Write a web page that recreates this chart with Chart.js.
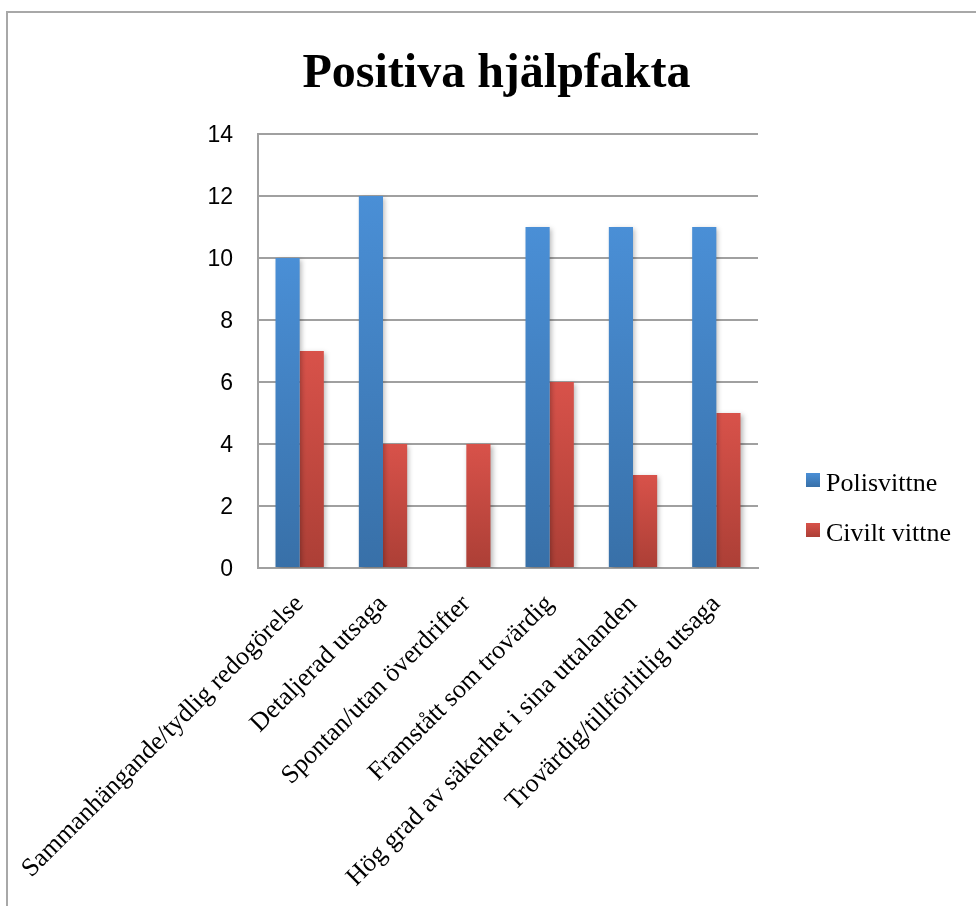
<!DOCTYPE html>
<html>
<head>
<meta charset="utf-8">
<script src="https://cdn.jsdelivr.net/npm/chart.js@4.4.1/dist/chart.umd.min.js"></script>
<style>
  html, body { margin: 0; padding: 0; background: #fff; }
  #frame {
    position: absolute; left: 6px; top: 11px; width: 970px; height: 895px;
    border-left: 2px solid #a8a8a8; border-top: 2px solid #a8a8a8;
  }
  #wrap { position: absolute; left: 0; top: 0; width: 968px; height: 893px; }
  #title {
    position: absolute; left: 0; top: 29px; width: 977px; text-align: center;
    font-family: "Liberation Serif", "Times New Roman", serif; font-size: 48px;
    font-weight: bold; line-height: 57.6px; color: #000; white-space: nowrap;
  }
  #legend {
    position: absolute; left: 798px; top: 445px;
    font-family: "Liberation Serif", "Times New Roman", serif; font-size: 26px; color: #000;
  }
  .item { height: 50px; line-height: 50px; white-space: nowrap; }
  .box { display: inline-block; width: 14px; height: 14px; margin-right: 6px; margin-bottom: 4px; vertical-align: baseline; }
</style>
</head>
<body>
<div id="frame">
  <div id="wrap"><canvas id="chart"></canvas></div>
  <div id="title">Positiva hjälpfakta</div>
  <div id="legend"></div>
</div>
<script>
const categories = [
  'Sammanhängande/tydlig redogörelse',
  'Detaljerad utsaga',
  'Spontan/utan överdrifter',
  'Framstått som trovärdig',
  'Hög grad av säkerhet i sina uttalanden',
  'Trovärdig/tillförlitlig utsaga'
];
const seriesNames = ['Polisvittne', 'Civilt vittne'];
const polisvittne = [10, 12, 0, 11, 11, 11];
const civiltVittne = [7, 4, 4, 6, 3, 5];
const yTicks = [0, 2, 4, 6, 8, 10, 12, 14];

const colorsTop = ['#4a8fd6', '#d8524a'];
const colorsBottom = ['#3870a8', '#ac3f36'];

// vertical gradient per bar, from its top down to the zero line
function barGradient(top, bottom) {
  return function(context) {
    const chart = context.chart;
    const area = chart.chartArea;
    if (!area || context.type !== 'data') return top;
    const y = chart.scales.y;
    const yTop = y.getPixelForValue(context.parsed.y);
    const yBase = y.getPixelForValue(0);
    if (yBase - yTop < 1) return top;
    const g = chart.ctx.createLinearGradient(0, yTop, 0, yBase);
    g.addColorStop(0, top);
    g.addColorStop(1, bottom);
    return g;
  };
}

const shadowPlugin = {
  id: 'barShadow',
  beforeDatasetsDraw(chart) {
    const ctx = chart.ctx;
    ctx.save();
    ctx.shadowColor = 'rgba(0,0,0,0.28)';
    ctx.shadowBlur = 5;
    ctx.shadowOffsetX = 2;
    ctx.shadowOffsetY = 2;
  },
  afterDatasetsDraw(chart) {
    chart.ctx.restore();
  }
};

const serif = '"Liberation Serif", "Times New Roman", serif';

const chart = new Chart(document.getElementById('chart'), {
  type: 'bar',
  data: {
    labels: categories,
    datasets: [
      {
        label: seriesNames[0],
        data: polisvittne,
        backgroundColor: barGradient(colorsTop[0], colorsBottom[0])
      },
      {
        label: seriesNames[1],
        data: civiltVittne,
        backgroundColor: barGradient(colorsTop[1], colorsBottom[1])
      }
    ]
  },
  plugins: [shadowPlugin],
  options: {
    responsive: true,
    maintainAspectRatio: false,
    animation: false,
    datasets: { bar: { categoryPercentage: 0.58, barPercentage: 1.0 } },
    layout: { padding: { left: 0, right: 218, top: 121, bottom: 0 } },
    plugins: {
      title: { display: false },
      legend: { display: false },
      tooltip: { enabled: false }
    },
    scales: {
      x: {
        grid: { display: false, drawTicks: false },
        border: { color: '#a0a0a0', width: 2 },
        afterFit(scale) {
          scale.height = 338;
          scale.paddingLeft = 0;
          scale.paddingRight = 0;
        },
        ticks: {
          color: '#000',
          maxRotation: 45,
          minRotation: 45,
          padding: 21,
          font: { family: serif, size: 26 }
        }
      },
      y: {
        min: 0,
        max: 14,
        afterBuildTicks(scale) {
          scale.ticks = yTicks.map(v => ({ value: v }));
        },
        afterFit(scale) { scale.width = 250; },
        grid: { color: '#a0a0a0', lineWidth: 2, drawTicks: false },
        border: { color: '#a0a0a0', width: 2 },
        ticks: {
          color: '#000',
          padding: 25,
          labelOffset: 2,
          font: { family: '"Liberation Sans", Arial, sans-serif', size: 23 }
        }
      }
    }
  }
});

const legend = document.getElementById('legend');
chart.data.datasets.forEach((ds, i) => {
  const item = document.createElement('div');
  item.className = 'item';
  const box = document.createElement('span');
  box.className = 'box';
  box.style.background = 'linear-gradient(' + colorsTop[i] + ',' + colorsBottom[i] + ')';
  item.appendChild(box);
  item.appendChild(document.createTextNode(ds.label));
  legend.appendChild(item);
});
</script>
</body>
</html>
